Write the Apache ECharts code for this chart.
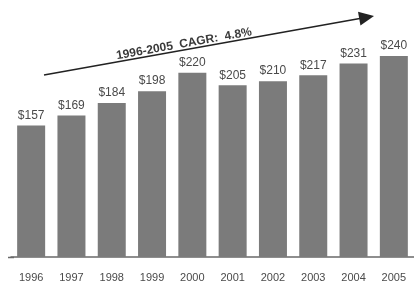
<!DOCTYPE html>
<html>
<head>
<meta charset="utf-8">
<script src="https://cdn.jsdelivr.net/npm/echarts@6/dist/echarts.min.js"></script>
<style>
  html, body { margin: 0; padding: 0; background: #fff; }
  #chart { width: 414px; height: 286px; }
</style>
</head>
<body>
<div id="chart"></div>
<script>
// years and values
var years = ['1996', '1997', '1998', '1999', '2000', '2001', '2002', '2003', '2004', '2005']
var revenue = [157, 169, 184, 198, 220, 205, 210, 217, 231, 240]
var cagrText = '1996-2005  CAGR:  4.8%'

var chart = echarts.init(document.getElementById('chart'))

// arrow geometry (annotation, not data)
var tail = [44, 75]
var tip = [374, 16]
var dx = tip[0] - tail[0], dy = tip[1] - tail[1]
var len = Math.sqrt(dx * dx + dy * dy)
var ux = dx / len, uy = dy / len
var headLen = 15, headHalf = 7
var bx = tip[0] - ux * headLen, by = tip[1] - uy * headLen
var angle = Math.atan2(-dy, dx)

chart.setOption({
    animation: false,
    textStyle: { fontFamily: 'Liberation Sans, Arial, sans-serif' },
    grid: { left: 11, right: 0, top: 20, bottom: 29 },
    xAxis: {
        type: 'category',
        data: years,
        axisLine: { lineStyle: { color: '#6a6a6a', width: 1.5 } },
        axisTick: { show: false },
        axisLabel: { color: '#4a4a4a', fontSize: 11, margin: 15 }
    },
    yAxis: {
        type: 'value',
        min: 0,
        max: 283,
        show: false,
        splitLine: { show: false }
    },
    series: [{
        type: 'bar',
        data: revenue,
        barWidth: 28,
        itemStyle: { color: '#7b7b7b' },
        label: {
            show: true,
            position: 'top',
            distance: 4,
            color: '#4a4a4a',
            fontSize: 12,
            formatter: function (p) { return '$' + p.value }
        }
    }],
    graphic: [
        {
            type: 'line',
            shape: { x1: 8, y1: 257.5, x2: 14, y2: 257.5 },
            style: { stroke: '#6a6a6a', lineWidth: 1.5 }
        },
        {
            type: 'line',
            shape: { x1: tail[0], y1: tail[1], x2: bx + ux * 2, y2: by + uy * 2 },
            style: { stroke: '#222', lineWidth: 1.6 }
        },
        {
            type: 'polygon',
            shape: {
                points: [
                    tip,
                    [bx - uy * headHalf, by + ux * headHalf],
                    [bx + uy * headHalf, by - ux * headHalf]
                ]
            },
            style: { fill: '#222' }
        },
        {
            type: 'text',
            x: 184,
            y: 44,
            rotation: angle,
            style: {
                text: cagrText,
                fill: '#3a3a3a',
                font: 'bold 12px "Liberation Sans", Arial, sans-serif',
                align: 'center',
                verticalAlign: 'middle'
            }
        }
    ]
})
</script>
</body>
</html>
